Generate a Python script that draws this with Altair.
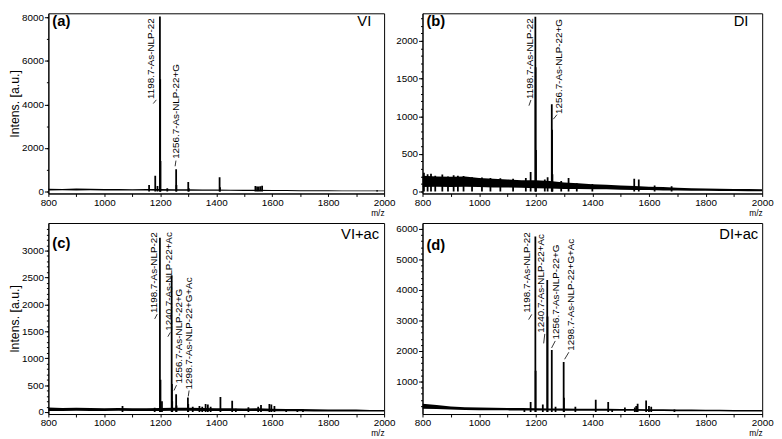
import altair as alt
import pandas as pd

# ---------------- data ----------------
base_mz = [800, 850, 900, 950, 1000, 1050, 1100, 1150, 1200, 1250, 1300, 1350, 1400,
           1450, 1500, 1550, 1600, 1650, 1700, 1750, 1800, 1850, 1900, 1950, 2000]

# (a) VI
a_lo = [50, 55, 50, 55, 45, 50, 45, 45, 40, 40, 35, 35, 30, 30, 25, 25, 20, 20, 15, 15, 10, 10, 10, 10, 10]
a_hi = [130, 120, 135, 125, 115, 120, 110, 115, 120, 110, 100, 95, 90, 85, 80, 80, 70, 65, 60, 55, 55, 50, 50, 45, 45]
a_peak_mz = [1160, 1182, 1190, 1198.7, 1199.7, 1200.7, 1225, 1256.7, 1257.7, 1300, 1302, 1412, 1413.5,
             1540, 1546, 1552, 1558, 1564, 1975]
a_peak_int = [300, 720, 250, 8030, 5150, 1400, 150, 1020, 300, 440, 150, 650, 200,
              250, 230, 230, 240, 260, 60]
a_lab = ["1198.7-As-NLP-22", "1256.7-As-NLP-22+G"]
a_lab_mz = [1166, 1256]
a_lab_int = [4250, 1500]
a_lead = [(1175, 4040, 1186, 4210), (1253, 1160, 1256, 1420)]

# (b) DI
b_lo = [60, 65, 60, 65, 60, 55, 55, 50, 45, 40, 35, 35, 30, 30, 25, 20, 20, 15, 15, 10, 10, 8, 8, 5, 5]
b_hi = [210, 200, 195, 200, 180, 170, 160, 150, 150, 140, 120, 110, 95, 90, 80, 75, 65, 60, 50, 45, 40, 38, 35, 32, 30]
b_peak_mz = [805, 818, 830, 845, 870, 890, 910, 925, 945, 975, 1010, 1040, 1075, 1120, 1165, 1182,
             1198.7, 1199.7, 1200.7, 1232, 1242, 1256.7, 1257.7, 1259, 1290, 1316, 1345, 1400,
             1548, 1564, 1620, 1680]
b_peak_int = [250, 230, 235, 210, 225, 200, 215, 210, 205, 190, 185, 180, 175, 170, 180, 260,
              2320, 1650, 550, 160, 190, 1160, 820, 230, 140, 180, 110, 100,
              170, 160, 80, 70]
b_lab = ["1198.7-As-NLP-22", "1256.7-As-NLP-22+G"]
b_lab_mz = [1179, 1283]
b_lab_int = [1230, 1030]
b_lead = [(1176, 1140, 1183, 1215), (1262, 960, 1275, 1020)]

# (c) VI+ac
c_lo = [20, 20, 25, 20, 20, 25, 20, 20, 20, 25, 25, 20, 20, 20, 20, 20, 15, 15, 15, 10, 10, 10, 10, 10, 10]
c_hi = [85, 75, 80, 75, 70, 75, 70, 70, 75, 80, 80, 75, 70, 70, 65, 70, 60, 55, 55, 50, 45, 45, 45, 40, 40]
c_peak_mz = [1065, 1180, 1198.7, 1200.7, 1206, 1240.7, 1241.7, 1242.7, 1256.7, 1258, 1298.7, 1300, 1316,
             1340, 1350, 1362, 1370, 1380, 1415, 1457, 1470, 1515, 1550, 1560, 1590, 1597, 1608,
             1650, 1690, 1710]
c_peak_int = [110, 80, 3240, 600, 200, 2540, 520, 200, 330, 120, 270, 150, 100,
              110, 100, 150, 140, 100, 280, 210, 60, 90, 100, 130, 150, 140, 110,
              40, 50, 50]
c_lab = ["1198.7-As-NLP-22", "1240.7-As-NLP-22+Ac", "1256.7-As-NLP-22+G", "1298.7-As-NLP-22+G+Ac"]
c_lab_mz = [1179, 1231, 1268, 1303]
c_lab_int = [1840, 1510, 530, 420]
c_lead = [(1180, 1730, 1189, 1820), (1227, 1400, 1236, 1480), (1249, 400, 1258, 500), (1300, 290, 1303, 400)]

# (d) DI+ac
d_lo = [110, 100, 80, 70, 60, 60, 55, 50, 50, 50, 45, 45, 40, 40, 40, 40, 35, 35, 30, 30, 25, 25, 20, 20, 20]
d_hi = [270, 230, 180, 160, 150, 140, 135, 130, 125, 120, 115, 110, 110, 105, 100, 100, 95, 90, 85, 80, 75, 75, 70, 70, 70]
d_peak_mz = [1160, 1182, 1198.7, 1199.7, 1225, 1240.7, 1241.7, 1256.7, 1270, 1298.7, 1299.7, 1340,
             1412, 1456, 1470, 1515, 1550, 1555, 1560, 1590, 1600, 1608, 1690]
d_peak_int = [120, 330, 5750, 1350, 250, 4330, 3130, 2030, 170, 1640, 470, 170,
              400, 330, 100, 150, 150, 200, 270, 380, 200, 170, 80]
d_lab = ["1198.7-As-NLP-22", "1240.7-As-NLP-22+Ac", "1256.7-As-NLP-22+G", "1298.7-As-NLP-22+G+Ac"]
d_lab_mz = [1170, 1220, 1272, 1324]
d_lab_int = [3250, 2600, 2380, 2010]
d_lead = [(1175, 3030, 1186, 3200), (1228, 2250, 1232, 2560), (1256, 2100, 1269, 2330), (1302, 1730, 1317, 1960)]

FONT = "Liberation Sans"


def make_panel(lo, hi, pk_mz, pk_int, lab, lab_mz, lab_int, leads, ydomain, ymajor, yminor,
               show_ytitle, width, height, letter, letter_y, tag, tag_dx, tag_y):
    xs = alt.Scale(domain=[800, 2000], nice=False, zero=False)
    ys = alt.Scale(domain=ydomain, nice=False, zero=False)
    xaxis = alt.Axis(values=list(range(800, 2001, 100)), format="d", orient="bottom",
                     labelExpr="datum.value % 200 === 0 ? datum.label : ''",
                     tickSize=3, title="m/z", titleAnchor="end", titleFontSize=8.5,
                     titleFontWeight="normal", titlePadding=1, labelFontSize=10, labelPadding=1,
                     labelFlush=False, labelOverlap=False, grid=False)
    ykw = dict(values=ymajor, format="d", orient="left", tickSize=4,
               labelFontSize=10, labelPadding=1, labelFlush=False, labelOverlap=False, grid=False,
               titleFontSize=12.5, titleFontWeight="normal", titlePadding=0)
    ykw["title"] = "Intens. [a.u.]" if show_ytitle else None
    yaxis = alt.Axis(**ykw)
    yaxis_minor = alt.Axis(values=yminor, orient="left", tickSize=2, labels=False, domain=False,
                           grid=False, title=None)

    def X(f):
        return alt.X(f, type="quantitative", scale=xs, axis=xaxis)

    def Y(f, ax=yaxis):
        return alt.Y(f, type="quantitative", scale=ys, axis=ax)

    band = alt.Chart(pd.DataFrame({"mz": base_mz, "lo": lo, "hi": hi})).mark_area(
        color="black", opacity=1, clip=True).encode(x=X("mz"), y=Y("lo", yaxis_minor), y2="hi:Q")
    peaks = alt.Chart(pd.DataFrame({"mz": pk_mz, "v": pk_int})).mark_rule(
        color="black", strokeWidth=1.8, clip=True).encode(x=X("mz"), y=Y("v"), y2=alt.datum(0))
    labels = alt.Chart(pd.DataFrame({"mz": lab_mz, "v": lab_int, "t": lab})).mark_text(
        angle=270, align="left", baseline="middle", fontSize=10, font=FONT, color="black",
        clip=True).encode(x=X("mz"), y=Y("v"), text="t:N")
    ld = pd.DataFrame(leads, columns=["mz", "v", "mz2", "v2"])
    leaders = alt.Chart(ld).mark_rule(color="black", strokeWidth=0.8).encode(
        x=X("mz"), y=Y("v"), x2="mz2:Q", y2="v2:Q")
    let = alt.Chart(pd.DataFrame({"t": [letter]})).mark_text(
        align="left", baseline="middle", fontSize=15, fontWeight="bold", font=FONT, color="black").encode(
        x=alt.value(4), y=alt.value(letter_y), text="t:N")
    tg = alt.Chart(pd.DataFrame({"t": [tag]})).mark_text(
        align="right", baseline="middle", fontSize=15, font=FONT, color="black").encode(
        x=alt.value(width - tag_dx), y=alt.value(tag_y), text="t:N")
    main = alt.layer(peaks, labels, leaders, let, tg)
    return alt.layer(band, main).resolve_axis(y="independent").properties(width=width, height=height)


LW, RW = 341, 345
TH, BH = 183, 194

pa = make_panel(a_lo, a_hi, a_peak_mz, a_peak_int, a_lab, a_lab_mz, a_lab_int, a_lead,
                [-90, 8181], [0, 2000, 4000, 6000, 8000], list(range(0, 8001, 1000)),
                True, LW, TH, "(a)", 8, "VI", 13, 8)
pb = make_panel(b_lo, b_hi, b_peak_mz, b_peak_int, b_lab, b_lab_mz, b_lab_int, b_lead,
                [-26, 2366], [0, 500, 1000, 1500, 2000], list(range(0, 2301, 100)),
                False, RW, TH, "(b)", 8, "DI", 14, 8)
pc = make_panel(c_lo, c_hi, c_peak_mz, c_peak_int, c_lab, c_lab_mz, c_lab_int, c_lead,
                [-37, 3512], [0, 500, 1000, 1500, 2000, 2500, 3000], list(range(0, 3401, 100)),
                True, LW, BH, "(c)", 20, "VI+ac", 5, 11)
pd_ = make_panel(d_lo, d_hi, d_peak_mz, d_peak_int, d_lab, d_lab_mz, d_lab_int, d_lead,
                 [-65, 6194], [1000, 2000, 3000, 4000, 5000, 6000], list(range(200, 6101, 200)),
                 False, RW, BH, "(d)", 22, "DI+ac", 4, 11)

chart = alt.concat(pa, pb, pc, pd_, columns=2, spacing={"row": 30, "column": 39}, bounds="flush")

chart = chart.resolve_scale(x="independent", y="independent").properties(padding=0).configure(
    font=FONT
).configure_view(
    stroke="black", strokeWidth=1
).configure_axis(
    domainColor="black", tickColor="black", labelColor="black", titleColor="black",
    labelFont=FONT, titleFont=FONT, domainWidth=1, tickWidth=1
)

chart.save("out.html", embed_options={"renderer": "svg", "actions": False})
